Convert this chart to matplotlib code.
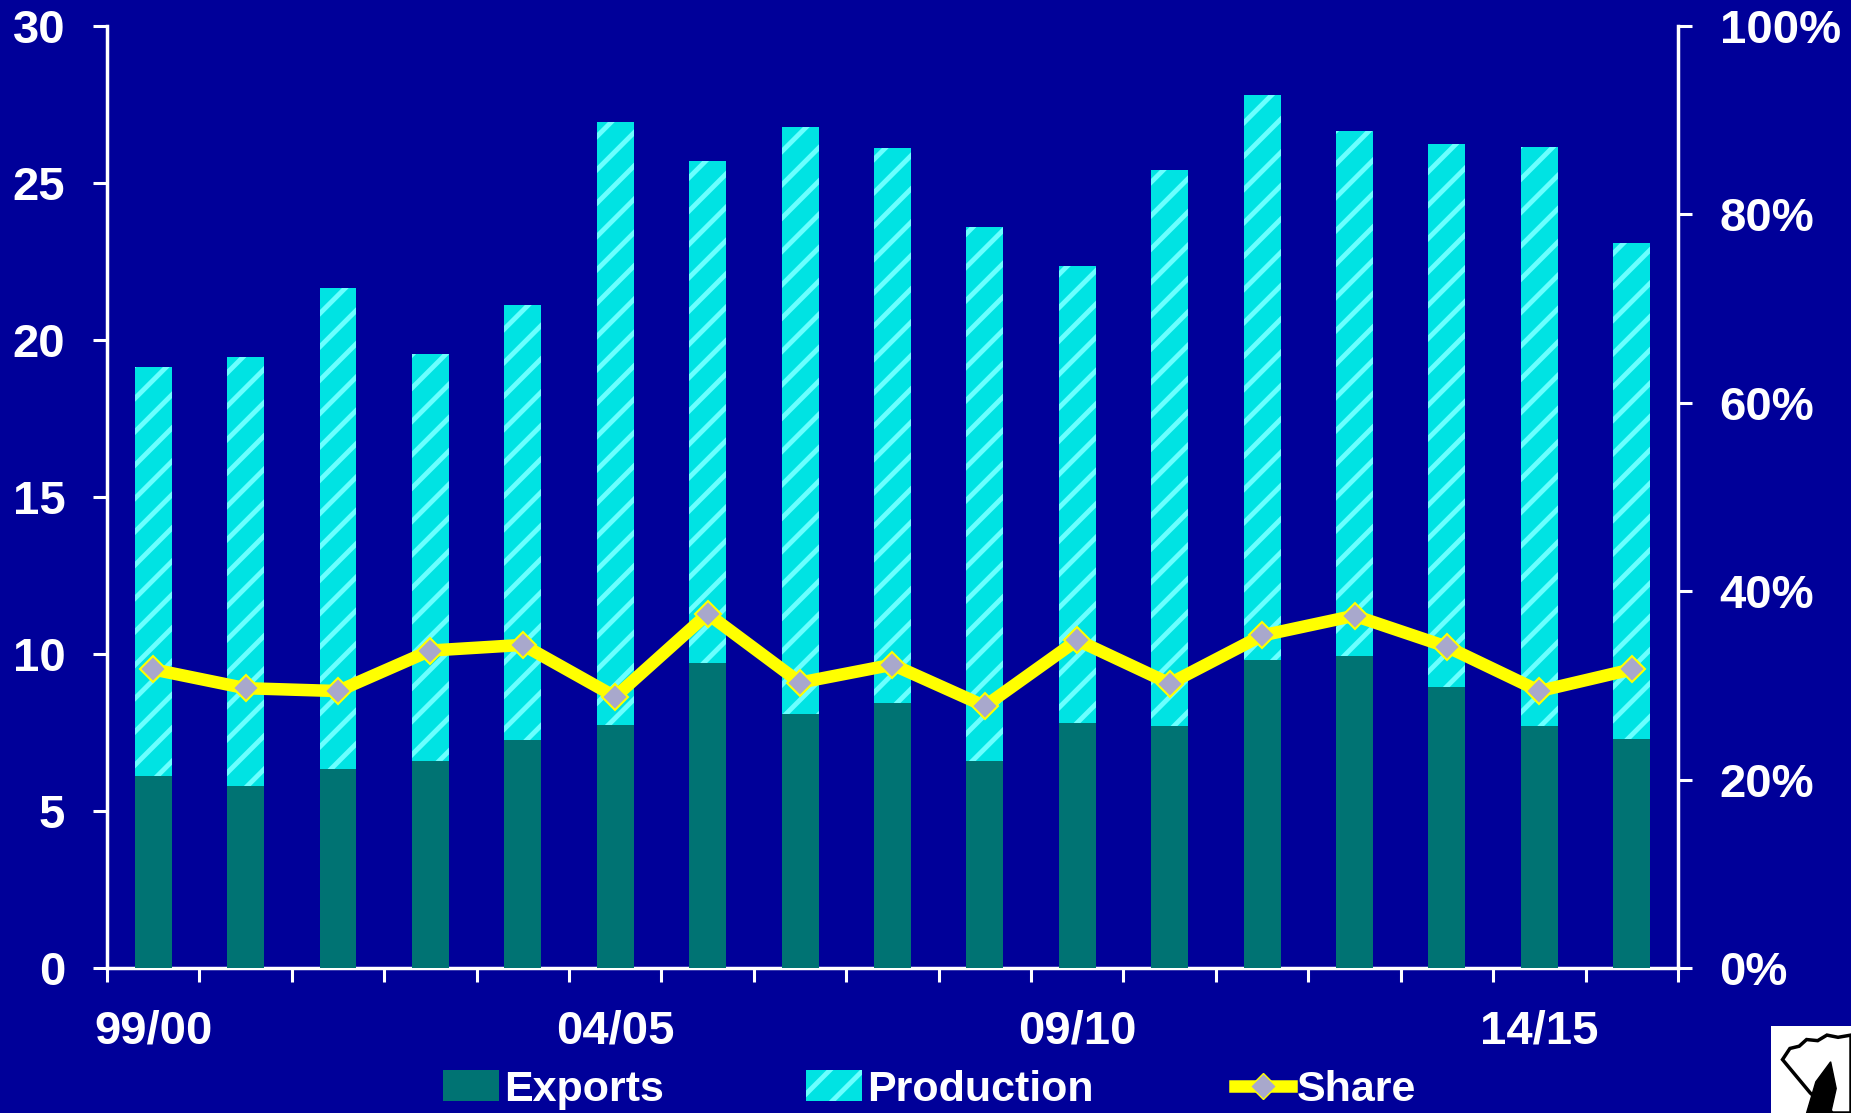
import numpy as np
import matplotlib.pyplot as plt
from matplotlib.patches import Rectangle, Polygon
from matplotlib.lines import Line2D
from matplotlib.ticker import FuncFormatter

# Data (million tonnes / share of exports in production)
seasons = ["99/00", "00/01", "01/02", "02/03", "03/04", "04/05", "05/06", "06/07",
           "07/08", "08/09", "09/10", "10/11", "11/12", "12/13", "13/14", "14/15", "15/16"]
production = [19.15, 19.45, 21.65, 19.55, 21.1, 26.95, 25.7, 26.8, 26.1, 23.6,
              22.35, 25.4, 27.8, 26.65, 26.25, 26.15, 23.1]
exports = [6.1, 5.8, 6.35, 6.6, 7.25, 7.75, 9.7, 8.1, 8.45, 6.6,
           7.8, 7.7, 9.8, 9.95, 8.95, 7.7, 7.3]
share = [31.7, 29.7, 29.4, 33.7, 34.3, 28.8, 37.6, 30.3, 32.2, 27.8,
         34.8, 30.2, 35.3, 37.4, 34.1, 29.4, 31.7]
label_every = 5

bg = "#000099"
plt.rcParams['font.family'] = ['Liberation Sans', 'DejaVu Sans']
plt.rcParams['font.weight'] = 'bold'
plt.rcParams['hatch.linewidth'] = 3.5

fig = plt.figure(figsize=(18.51, 11.13), dpi=100, facecolor=bg)
ax = fig.add_axes([0.0578, 0.1303, 0.8487, 0.8463], facecolor=bg)
x = np.arange(len(seasons))

ax.bar(x, production, width=0.4, color="#00E3E3", edgecolor="#6CFFFF",
       hatch="/", linewidth=0, zorder=2)
ax.bar(x, exports, width=0.4, color="#007373", linewidth=0, zorder=3)

ax.set_xlim(-0.5, len(seasons) - 0.5)
ax.set_ylim(0, 30)
ax.set_yticks(range(0, 31, 5))

# ticks between categories, labels under selected categories
ax.set_xticks(np.arange(-0.5, len(seasons), 1.0))
ax.set_xticklabels([])
ax.set_xticks(x[::label_every], minor=True)
ax.set_xticklabels(seasons[::label_every], minor=True)
ax.tick_params(axis='x', which='minor', length=0, pad=30, labelsize=34, colors='white')
ax.tick_params(axis='x', which='major', length=10, width=2.2, color='white', direction='out')
ax.tick_params(axis='y', length=10, width=2.2, colors='white', pad=20, labelsize=34)

ax.spines['top'].set_visible(False)
ax.spines['right'].set_visible(False)
for side in ['left', 'bottom']:
    ax.spines[side].set_color('white')
    ax.spines[side].set_linewidth(2.5)

ax2 = ax.twinx()
ax2.set_ylim(0, 100)
ax2.set_yticks(range(0, 101, 20))
ax2.yaxis.set_major_formatter(FuncFormatter(lambda v, p: f"{int(v)}%"))
ax2.plot(x, share, color="#FFFF00", lw=9, marker="D", ms=13,
         mfc="#A8A8CC", mec="#FFFF00", mew=1.5, solid_joinstyle='miter', zorder=5)
ax2.tick_params(axis='y', length=10, width=2.2, colors='white', pad=20, labelsize=34)
for side in ['top', 'left', 'bottom']:
    ax2.spines[side].set_visible(False)
ax2.spines['right'].set_color('white')
ax2.spines['right'].set_linewidth(2.5)

handles = [
    Rectangle((0, 0), 1, 1, facecolor="#007373", linewidth=0),
    Rectangle((0, 0), 1, 1, facecolor="#00E3E3", edgecolor="#6CFFFF", hatch="/", linewidth=0),
    Line2D([], [], color="#FFFF00", lw=9, marker="D", ms=13, mfc="#A8A8CC", mec="#FFFF00"),
]
leg = fig.legend(handles, ["Exports", "Production", "Share"], loc="center",
                 bbox_to_anchor=(0.502, 0.021), ncol=3, frameon=False, fontsize=31,
                 handlelength=1.3, handleheight=0.7, handletextpad=0.12,
                 columnspacing=3.3)
for t in leg.get_texts():
    t.set_color('white')

# small cotton logo in the corner
fig.patches.append(Rectangle((0.9568, 0.0), 0.05, 0.0782, transform=fig.transFigure,
                             facecolor='white', edgecolor='none'))
boll = [(0.963, 0.048), (0.967, 0.058), (0.972, 0.060), (0.976, 0.066), (0.982, 0.065),
        (0.987, 0.070), (0.993, 0.068), (1.0, 0.070), (1.0, 0.0), (0.99, 0.0),
        (0.978, 0.018), (0.970, 0.034)]
fig.patches.append(Polygon(boll, closed=True, transform=fig.transFigure,
                           facecolor='white', edgecolor='black', linewidth=2.5))
leaf = [(0.976, 0.0), (0.981, 0.028), (0.989, 0.046), (0.992, 0.022), (0.989, 0.0)]
fig.patches.append(Polygon(leaf, closed=True, transform=fig.transFigure,
                           facecolor='black', edgecolor='black'))

fig.savefig("out.png", dpi=100, facecolor=bg)
